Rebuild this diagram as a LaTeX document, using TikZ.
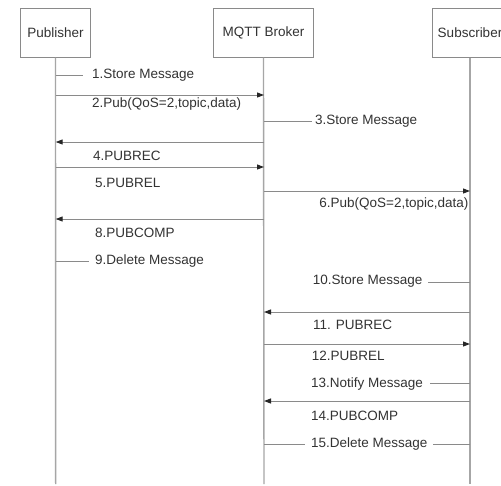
\documentclass[tikz,border=0pt]{standalone}
\usepackage{fontspec}
\setmainfont{Liberation Sans}
\usetikzlibrary{arrows.meta}
\definecolor{lifegray}{HTML}{A6A6A6}
\definecolor{msggray}{HTML}{8A8A8A}
\definecolor{txtgray}{HTML}{333333}
\tikzset{
  actor/.style={draw=msggray, line width=1pt, minimum height=49pt, inner sep=0pt,
    text=txtgray, font=\fontsize{13.5}{15}\selectfont},
  lifeline/.style={draw=lifegray, line width=1.4pt},
  msg/.style={draw=msggray, line width=1pt, -{Triangle[length=7pt,width=5pt,fill=black!85,color=black!85]}},
  selfline/.style={draw=msggray, line width=1pt},
  lbl/.style={text=txtgray, font=\fontsize{13.5}{15}\selectfont, inner sep=0pt, anchor=west},
  lblr/.style={lbl, anchor=east}
}
\begin{document}
\begin{tikzpicture}[x=1pt,y=-1pt]
\clip (0,0) rectangle (501,485);
\fill[white] (0,0) rectangle (501,485);

% participants
\node[actor, minimum width=70.7pt] (pub) at (55.5,32.5) {Publisher};
\node[actor, minimum width=99.7pt] (brk) at (263.5,32.5) {MQTT Broker};
\node[actor, minimum width=76pt] (sub) at (470,32.5) {Subscriber};

% lifeline ends
\coordinate (pubEnd) at (55.7,484);
\coordinate (brkEnd) at (264,484);
\coordinate (subEnd) at (470,484);
\draw[lifeline] (pub.south) -- (pubEnd);
\draw[lifeline] (brk.south) -- (brkEnd);
\draw[lifeline] (sub.south) -- (subEnd);

% points on the lifelines, one per message row
\foreach \n/\y in {1/75.7,2/95,3/121.7,4/142,5/167,6/191,8/219,9/261.7,10/282,11/312,12/344,13/383,14/401,15/444}{
  \coordinate (P\n) at (55.7,\y);
  \coordinate (B\n) at (264,\y);
  \coordinate (S\n) at (470,\y);
}

% 1. store at publisher
\coordinate (t1) at (83,75.7);
\draw[selfline] (P1) -- (t1);
\node[lbl] (l1) at (92,75.2) {1.Store Message};

% 2. publish to broker
\draw[msg] (P2) -- (B2);
\node[lbl] (l2) at (92,104.5) {2.Pub(QoS=2,topic,data)};

% 3. store at broker
\coordinate (t3) at (311.7,121.7);
\draw[selfline] (B3) -- (t3);
\node[lbl] (l3) at (315,121.2) {3.Store Message};

% 4. PUBREC
\draw[msg] (B4) -- (P4);
\node[lbl] (l4) at (93,155.7) {4.PUBREC};

% 5. PUBREL
\draw[msg] (P5) -- (B5);
\node[lbl] (l5) at (95,182.5) {5.PUBREL};

% 6. forward to subscriber
\draw[msg] (B6) -- (S6);
\node[lblr] (l6) at (468.5,204.3) {6.Pub(QoS=2,topic,data)};

% 8. PUBCOMP
\draw[msg] (B8) -- (P8);
\node[lbl] (l8) at (95,232.8) {8.PUBCOMP};

% 9. delete at publisher
\coordinate (t9) at (89,261.7);
\draw[selfline] (P9) -- (t9);
\node[lbl] (l9) at (95,261.2) {9.Delete Message};

% 10. store at subscriber
\coordinate (t10) at (427.7,282);
\draw[selfline] (S10) -- (t10);
\node[lblr] (l10) at (422.7,281.5) {10.Store Message};

% 11. PUBREC
\draw[msg] (S11) -- (B11);
\node[lbl] (l11) at (313,324.5) {11. PUBREC};

% 12. PUBREL
\draw[msg] (B12) -- (S12);
\node[lbl] (l12) at (311.7,356) {12.PUBREL};

% 13. notify at subscriber
\coordinate (t13) at (430,383);
\draw[selfline] (S13) -- (t13);
\node[lbl] (l13) at (311,384) {13.Notify Message};

% 14. PUBCOMP
\draw[msg] (S14) -- (B14);
\node[lbl] (l14) at (311,416.3) {14.PUBCOMP};

% 15. delete at broker
\coordinate (t15a) at (305,444);
\coordinate (t15b) at (433,444);
\draw[selfline] (B15) -- (t15a);
\draw[selfline] (S15) -- (t15b);
\node[lbl] (l15) at (311,443.7) {15.Delete Message};
\end{tikzpicture}
\end{document}
